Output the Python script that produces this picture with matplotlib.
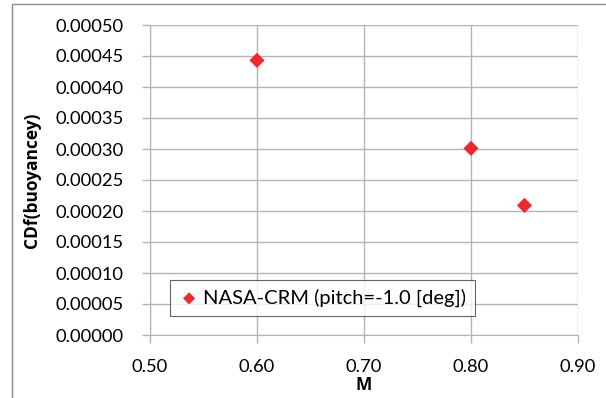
import matplotlib.pyplot as plt
from matplotlib.patches import Rectangle
from matplotlib.ticker import FormatStrFormatter

# data
mach = [0.60, 0.80, 0.85]
cdf_buoy = [0.000443, 0.000301, 0.000209]
series_name = 'NASA-CRM (pitch=-1.0 [deg])'

plt.rcParams['font.family'] = ['Lato', 'DejaVu Sans']
grid_c = '#b3b3b3'

fig = plt.figure(figsize=(6.06, 3.98), dpi=100)
ax = fig.add_axes([150/606, 1-335/398, 428/606, 310/398])

# outer chart border (runs off the right/bottom of the image)
fig.patches.append(Rectangle((11.5/606, -0.05), 1.0, 1-4.5/398+0.05,
                             transform=fig.transFigure, fill=False,
                             edgecolor='#8c8c8c', lw=1.0))

ax.scatter(mach, cdf_buoy, marker='D', s=60, color='#ee2a2e',
           edgecolors='none', zorder=3, label=series_name)

ax.set_xlim(0.5, 0.9)
ax.set_ylim(0, 0.0005)
ax.set_xticks([0.5, 0.6, 0.7, 0.8, 0.9])
ax.set_yticks([i * 0.00005 for i in range(11)])
ax.xaxis.set_major_formatter(FormatStrFormatter('%.2f'))
ax.yaxis.set_major_formatter(FormatStrFormatter('%.5f'))
ax.grid(True, color=grid_c, lw=1.0)
ax.set_axisbelow(True)
for side in ['top', 'right']:
    ax.spines[side].set_visible(False)
for side in ['left', 'bottom']:
    ax.spines[side].set_color(grid_c)
ax.tick_params(axis='both', colors=grid_c, labelcolor='black',
               labelsize=13.2, length=6, width=1.0)
ax.tick_params(axis='y', pad=13)
ax.tick_params(axis='x', pad=11)

bold = dict(fontsize=12.5, fontweight='bold', family=['Open Sans', 'DejaVu Sans'])
ax.set_xlabel('M', **bold)
ax.set_ylabel('CDf(buoyancey)', **bold)
ax.xaxis.set_label_coords(0.5, -0.133)
ax.yaxis.set_label_coords(-0.255, 0.5)

leg = ax.legend(loc='lower left', bbox_to_anchor=(20/428, 19/310, 305/428, 44/310),
                mode='expand', fontsize=14.5, frameon=True, fancybox=False,
                handletextpad=0.2, markerscale=0.8, borderpad=0.45,
                handlelength=1.0, borderaxespad=0)
leg.get_frame().set_edgecolor('#404040')
leg.get_frame().set_linewidth(0.8)

fig.savefig('out.png', dpi=100)
